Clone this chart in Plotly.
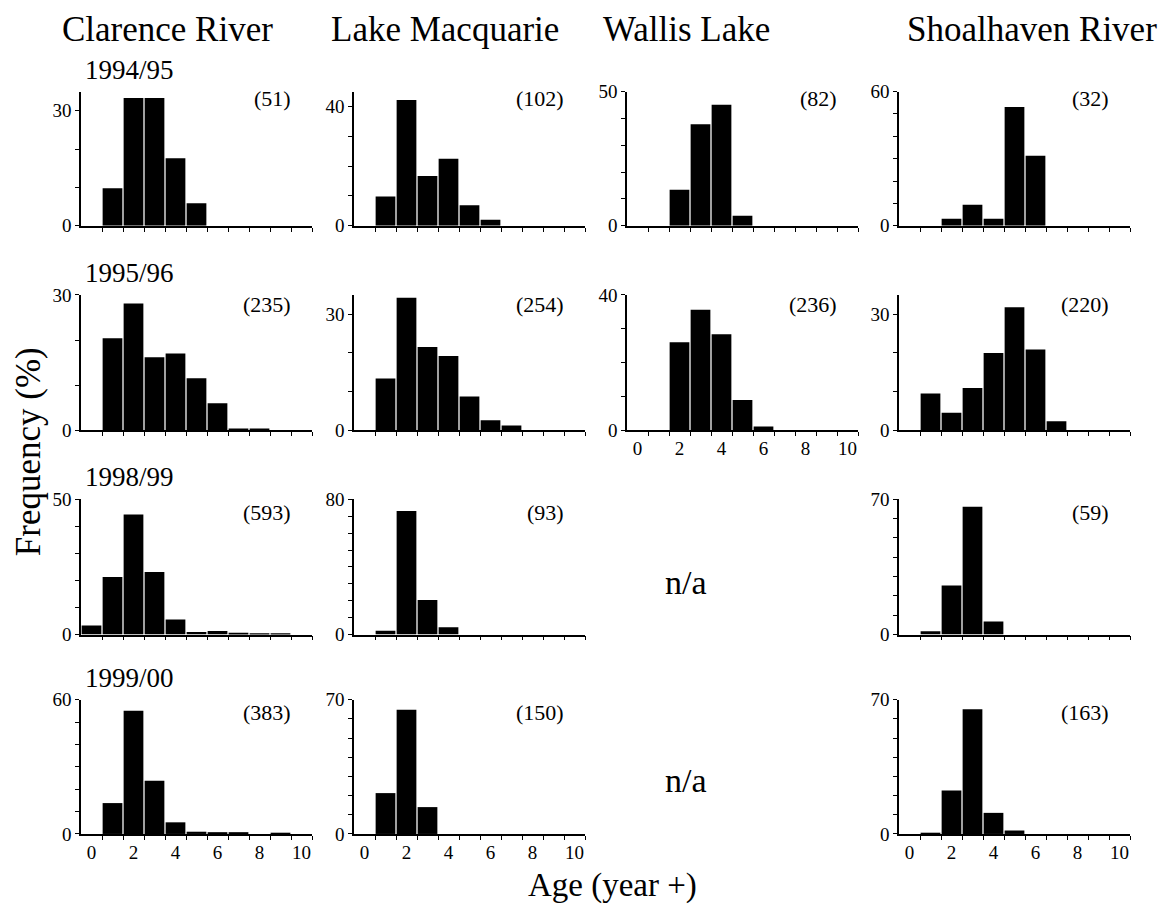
import plotly.graph_objects as go

# ---------------- data ----------------
ages = [0, 1, 2, 3, 4, 5, 6, 7, 8, 9, 10]
x_tick_labels = ["0", "2", "4", "6", "8", "10"]
x_tick_values = [0, 2, 4, 6, 8, 10]
bin_edges = [0.5, 1.5, 2.5, 3.5, 4.5, 5.5, 6.5, 7.5, 8.5, 9.5, 10.5]

sites = ["Clarence River", "Lake Macquarie", "Wallis Lake", "Shoalhaven River"]
seasons = ["1994/95", "1995/96", "1998/99", "1999/00"]

clarence_9495 = [0, 9.8, 33.3, 33.3, 17.6, 5.9, 0, 0, 0, 0, 0]
macquarie_9495 = [0, 9.8, 42.2, 16.7, 22.5, 6.9, 2.0, 0, 0, 0, 0]
wallis_9495 = [0, 0, 13.4, 37.8, 45.1, 3.7, 0, 0, 0, 0, 0]
shoalhaven_9495 = [0, 0, 3.1, 9.4, 3.1, 53.1, 31.3, 0, 0, 0, 0]

clarence_9596 = [0, 20.4, 28.1, 16.2, 17.0, 11.5, 6.0, 0.4, 0.4, 0, 0]
macquarie_9596 = [0, 13.4, 34.3, 21.5, 19.2, 8.7, 2.6, 1.2, 0, 0, 0]
wallis_9596 = [0, 0, 26.0, 35.6, 28.4, 8.9, 1.1, 0, 0, 0, 0]
shoalhaven_9596 = [0, 9.5, 4.5, 10.9, 20.0, 31.8, 20.9, 2.3, 0, 0, 0]

clarence_9899 = [3.4, 21.3, 44.4, 23.1, 5.6, 1.0, 1.3, 0.7, 0.3, 0.3, 0]
macquarie_9899 = [0, 2.2, 73.1, 20.4, 4.3, 0, 0, 0, 0, 0, 0]
shoalhaven_9899 = [0, 1.7, 25.4, 66.1, 6.8, 0, 0, 0, 0, 0, 0]

clarence_9900 = [0, 13.8, 55.1, 23.8, 5.2, 1.0, 0.8, 0.8, 0, 0.3, 0]
macquarie_9900 = [0, 21.3, 64.7, 14.0, 0, 0, 0, 0, 0, 0, 0]
shoalhaven_9900 = [0, 0.6, 22.7, 65.0, 11.0, 1.8, 0, 0, 0, 0, 0]

# sample sizes
n_9495 = ["(51)", "(102)", "(82)", "(32)"]
n_9596 = ["(235)", "(254)", "(236)", "(220)"]
n_9899 = ["(593)", "(93)", None, "(59)"]
n_9900 = ["(383)", "(150)", None, "(163)"]

# y axis extent and labelled top tick
ymax_9495 = [35, 45, 50, 60]
ytop_9495 = [30, 40, 50, 60]
ymax_9596 = [30, 35, 40, 35]
ytop_9596 = [30, 30, 40, 30]
ymax_9899 = [50, 80, None, 70]
ytop_9899 = [50, 80, None, 70]
ymax_9900 = [60, 70, None, 70]
ytop_9900 = [60, 70, None, 70]

data_rows = [
    [clarence_9495, macquarie_9495, wallis_9495, shoalhaven_9495],
    [clarence_9596, macquarie_9596, wallis_9596, shoalhaven_9596],
    [clarence_9899, macquarie_9899, None, shoalhaven_9899],
    [clarence_9900, macquarie_9900, None, shoalhaven_9900],
]
n_rows = [n_9495, n_9596, n_9899, n_9900]
ymax_rows = [ymax_9495, ymax_9596, ymax_9899, ymax_9900]
ytop_rows = [ytop_9495, ytop_9596, ytop_9899, ytop_9900]

# ---------------- layout geometry (pixels) ----------------
W, H = 1159, 907


def py(y):
    """convert a target screen pixel row to a layout pixel row"""
    return (y - 10.6) / 0.975


def fy(y):
    """target screen pixel row -> paper fraction"""
    return 1 - py(y) / H


col_px = [(81, 312), (354, 585), (627, 858), (899, 1130)]
row_px = [(92, 226), (295, 430), (499, 634), (699, 833)]
count_offset = [7, 10, 13, 13]
FONT = "Liberation Serif"

fig = go.Figure()
layout = dict(
    width=W, height=H, autosize=False,
    margin=dict(l=0, r=0, t=0, b=0),
    paper_bgcolor="white", plot_bgcolor="white",
    showlegend=False,
    font=dict(family=FONT, color="black"),
)
annotations = []

k = 0
for r in range(4):
    for c in range(4):
        vals = data_rows[r][c]
        if vals is None:
            continue
        k += 1
        xa = "x" if k == 1 else f"x{k}"
        ya = "y" if k == 1 else f"y{k}"
        fig.add_trace(go.Bar(x=ages, y=vals, xaxis=xa, yaxis=ya,
                             marker=dict(color="black", line=dict(width=0)),
                             width=0.94))
        x0, x1 = col_px[c]
        y0, y1 = row_px[r]
        show_x_labels = (r == 3) or (r == 1 and c == 2)
        ymax = ymax_rows[r][c]
        ytop = ytop_rows[r][c]
        yvals = list(range(0, ytop + 1, 10))
        ytext = [str(v) if v in (0, ytop) else "" for v in yvals]
        layout["xaxis" if k == 1 else f"xaxis{k}"] = dict(
            domain=[x0 / W, x1 / W], anchor=ya,
            range=[-0.5, 10.5], showgrid=False, zeroline=False,
            showline=True, linecolor="black", linewidth=1.5,
            tickmode="array", tickvals=x_tick_values, ticktext=x_tick_labels,
            ticks="", showticklabels=show_x_labels,
            tickfont=dict(family=FONT, size=19, color="black"),
            minor=dict(tickmode="array", tickvals=bin_edges, ticks="outside",
                       ticklen=4, tickwidth=1.2, tickcolor="black", showgrid=False),
            fixedrange=True,
        )
        layout["yaxis" if k == 1 else f"yaxis{k}"] = dict(
            domain=[fy(y1), fy(y0)], anchor=xa,
            range=[0, ymax], showgrid=False, zeroline=False,
            showline=True, linecolor="black", linewidth=1.5,
            tickmode="array", tickvals=yvals, ticktext=ytext,
            ticks="outside", ticklen=4, tickwidth=1.2, tickcolor="black",
            tickfont=dict(family=FONT, size=19, color="black"),
            fixedrange=True,
        )
        # sample size
        annotations.append(dict(
            text=n_rows[r][c], xref="paper", yref="paper",
            x=(x1 - 19) / W, y=fy(y0 + count_offset[r]),
            xanchor="right", yanchor="middle", showarrow=False,
            font=dict(family=FONT, size=22, color="black")))
        # season label on first column
        if c == 0:
            annotations.append(dict(
                text=seasons[r], xref="paper", yref="paper",
                x=83 / W, y=fy(y0 - 5), xanchor="left", yanchor="bottom",
                showarrow=False, font=dict(family=FONT, size=27, color="black")))

# column titles
title_x = [167, 445, 686, 1032]
for name, tx in zip(sites, title_x):
    annotations.append(dict(text=name, xref="paper", yref="paper",
                            x=tx / W, y=fy(30), xanchor="center", yanchor="middle",
                            showarrow=False, font=dict(family=FONT, size=35, color="black")))

# n/a labels
for ny in (582, 780):
    annotations.append(dict(text="n/a", xref="paper", yref="paper",
                            x=686 / W, y=fy(ny), xanchor="center", yanchor="middle",
                            showarrow=False, font=dict(family=FONT, size=34, color="black")))

# axis titles
annotations.append(dict(text="Frequency (%)", xref="paper", yref="paper",
                        x=28 / W, y=fy(452), xanchor="center", yanchor="middle",
                        textangle=-90, showarrow=False,
                        font=dict(family=FONT, size=35, color="black")))
annotations.append(dict(text="Age (year +)", xref="paper", yref="paper",
                        x=612 / W, y=fy(884), xanchor="center", yanchor="middle",
                        showarrow=False, font=dict(family=FONT, size=33, color="black")))

layout["annotations"] = annotations
fig.update_layout(**layout)
fig.write_html("out.html", config={"displayModeBar": False},
               post_script="document.body.style.margin='0px';")
